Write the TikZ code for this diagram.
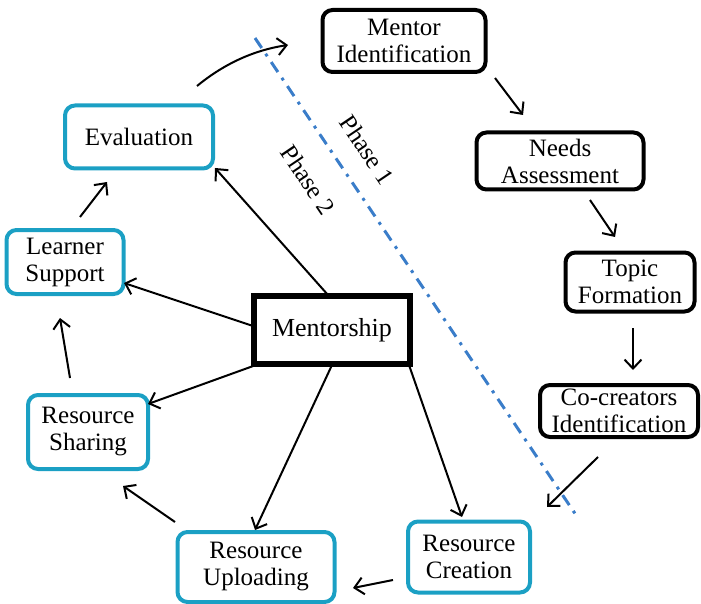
\documentclass[tikz,border=0pt]{standalone}
\usepackage{fontspec}
\newfontfamily\dfont[Ligatures=NoCommon]{Liberation Serif}
\usetikzlibrary{arrows.meta}
\definecolor{boxcyan}{RGB}{27,160,196}
\definecolor{phaseblue}{RGB}{58,125,201}
\begin{document}
\begin{tikzpicture}[x=1pt,y=-1pt,
  txt/.style={font=\dfont\fontsize{25}{27}\selectfont, align=center, inner sep=0pt},
  blackbox/.style={txt, draw=black, line width=4pt, rounded corners=10pt},
  cyanbox/.style={txt, draw=boxcyan, line width=4pt, rounded corners=10pt},
  centerbox/.style={font=\dfont\fontsize{26}{28}\selectfont, inner sep=0pt, draw=black, line width=5.5pt},
  arr/.style={line width=2pt, -{Straight Barb[length=9pt,width=17pt]}},
  phaseline/.style={draw=phaseblue, line width=3pt, dash pattern=on 12pt off 7pt on 3pt off 7pt}
]
\useasboundingbox (0,0) rectangle (701,604);

% phase divider
\coordinate (pa) at (255,38);
\coordinate (pb) at (578,518);
\draw[phaseline] (pa) -- (pb);
\node[txt, rotate=-56] (ph1) at (367,150) {Phase 1};
\node[txt, rotate=-56] (ph2) at (308,180) {Phase 2};

% phase 1 boxes
\node[blackbox, minimum width=163pt, minimum height=62pt] (mi) at (404,41) {Mentor\\Identification};
\node[blackbox, minimum width=167pt, minimum height=57pt] (na) at (560,161) {Needs\\Assessment};
\node[blackbox, minimum width=129pt, minimum height=59pt] (tf) at (630,282) {Topic\\Formation};
\node[blackbox, minimum width=158pt, minimum height=52pt] (cc) at (619,411) {Co-creators\\Identification};

% phase 2 boxes
\node[cyanbox, minimum width=122pt, minimum height=71pt] (rc) at (469,557) {Resource\\Creation};
\node[cyanbox, minimum width=157pt, minimum height=70pt] (ru) at (256,567) {Resource\\Uploading};
\node[cyanbox, minimum width=120pt, minimum height=74pt] (rs) at (88,432) {Resource\\Sharing};
\node[cyanbox, minimum width=117pt, minimum height=64pt] (ls) at (65,262) {Learner\\Support};
\node[cyanbox, minimum width=148pt, minimum height=63pt] (ev) at (139,137) {Evaluation};

% centre
\node[centerbox, minimum width=156pt, minimum height=68pt] (ms) at (332,330) {Mentorship};

% cycle arrows
\draw[arr] ([shift={(58,-51)}]ev.center) .. controls (225,63) and (255,50) .. ([shift={(-116,4)}]mi.center);
\draw[arr] ([shift={(91,37)}]mi.center) -- ([shift={(-37,-46)}]na.center);
\draw[arr] ([shift={(30,39)}]na.center) -- ([shift={(-15,-45)}]tf.center);
\draw[arr] ([shift={(3,46)}]tf.center) -- ([shift={(14,-41)}]cc.center);
\draw[arr] ([shift={(-21,46)}]cc.center) -- ([shift={(78,-50)}]rc.center);
\draw[arr] ([shift={(-76,23)}]rc.center) -- ([shift={(97,21)}]ru.center);
\draw[arr] ([shift={(-81,-45)}]ru.center) -- ([shift={(35,54)}]rs.center);
\draw[arr] ([shift={(-18,-54)}]rs.center) -- ([shift={(-5,56)}]ls.center);
\draw[arr] ([shift={(15,-45)}]ls.center) -- ([shift={(-32,45)}]ev.center);

% mentorship spokes
\draw[arr] ([shift={(-4,-35)}]ms.center) -- ([shift={(76,31)}]ev.center);
\draw[arr] ([shift={(-79,-4)}]ms.center) -- ([shift={(59,21)}]ls.center);
\draw[arr] ([shift={(-76,35)}]ms.center) -- ([shift={(60,-28)}]rs.center);
\draw[arr] ([shift={(0,35)}]ms.center) -- ([shift={(-1,-37)}]ru.center);
\draw[arr] ([shift={(77,35)}]ms.center) -- ([shift={(-7,-40)}]rc.center);
\end{tikzpicture}
\end{document}
